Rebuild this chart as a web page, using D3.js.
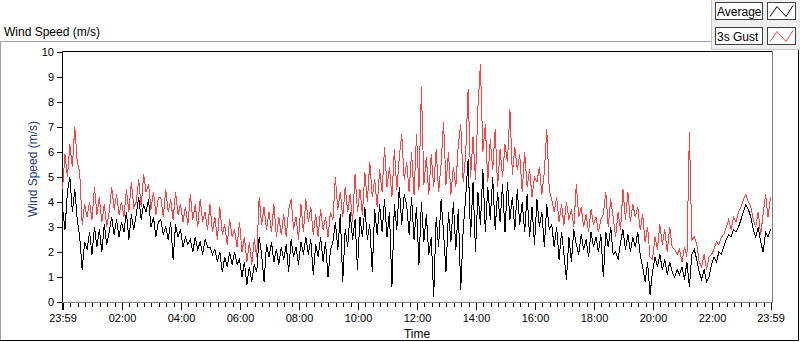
<!DOCTYPE html>
<html>
<head>
<meta charset="utf-8">
<script src="https://cdn.jsdelivr.net/npm/d3@7"></script>
<style>
  body { margin: 0; background: #fff; }
  svg { display: block; font-family: "Liberation Sans", Arial, sans-serif; }
</style>
</head>
<body>
<div id="chart"></div>
<script>
// series names as in the legend
const seriesNames = ["Average", "3s Gust"];

// labels under the time axis (first and last are 23:59)
const xTickLabels = ["23:59", "02:00", "04:00", "06:00", "08:00", "10:00", "12:00",
    "14:00", "16:00", "18:00", "20:00", "22:00", "23:59"];
const yTickValues = [0, 1, 2, 3, 4, 5, 6, 7, 8, 9, 10];

// one sample every 5 minutes from 23:59 to 23:59 (m/s)
const avgSpeed = [
    3.8, 2.9, 4.4, 5.0, 3.6, 4.5, 3.3, 2.6, 1.3, 2.4,
    2.1, 2.8, 1.9, 3.0, 2.2, 2.9, 2.0, 3.1, 2.3, 2.8,
    3.4, 2.7, 3.3, 2.6, 3.2, 2.8, 3.6, 2.5, 3.5, 2.9,
    3.5, 4.2, 3.3, 3.9, 3.6, 4.1, 3.0, 3.4, 2.6, 3.2,
    3.3, 2.7, 3.0, 2.5, 3.2, 1.7, 3.1, 2.6, 2.9, 2.2,
    2.6, 2.3, 2.5, 2.0, 2.6, 2.1, 2.4, 1.9, 2.5, 2.2,
    2.2, 1.9, 2.1, 1.6, 2.0, 1.2, 1.8, 1.4, 2.0, 1.5,
    2.0, 1.5, 1.7, 1.0, 1.6, 0.7, 1.4, 0.8, 1.5, 1.2,
    2.6, 1.9, 0.8, 2.3, 1.8, 2.4, 1.6, 2.1, 1.5, 2.2,
    1.7, 2.3, 1.2, 2.5, 1.8, 2.2, 1.5, 2.4, 1.9, 2.6,
    1.9, 2.5, 1.1, 2.3, 1.8, 2.6, 1.6, 2.4, 1.0, 2.1,
    2.4, 3.2, 2.1, 3.5, 0.8, 2.9, 2.2, 3.6, 2.5, 3.3,
    1.3, 3.4, 2.6, 3.8, 2.5, 3.1, 1.2, 3.7, 2.7, 3.9,
    2.8, 4.1, 2.6, 3.6, 0.6, 3.9, 2.9, 4.6, 3.1, 4.3,
    3.9, 2.7, 4.2, 2.5, 3.8, 1.5, 4.0, 2.4, 3.5, 1.9,
    2.6, 0.2, 3.4, 2.2, 4.1, 2.8, 1.2, 3.6, 2.4, 4.0,
    2.1, 3.7, 0.5, 2.9, 4.2, 5.7, 2.6, 4.8, 2.0, 4.4,
    3.1, 5.3, 2.8, 4.6, 3.3, 5.0, 2.9, 4.4, 3.2, 4.7,
    2.8, 4.8, 3.3, 4.2, 2.9, 4.5, 3.1, 4.0, 2.8, 4.3,
    2.6, 3.8, 2.3, 4.1, 3.0, 3.6, 2.2, 3.9, 2.9, 3.1,
    2.2, 3.0, 1.7, 2.8, 1.9, 0.9, 2.6, 1.6, 2.9, 2.3,
    1.9, 2.7, 2.1, 2.5, 1.8, 2.8, 2.2, 2.6, 2.0, 2.7,
    1.0, 2.8, 2.2, 3.0, 1.9, 2.0, 1.7, 2.4, 2.9, 2.1,
    2.7, 2.0, 2.6, 2.2, 2.8, 1.9, 1.4, 0.8, 1.6, 0.3,
    1.2, 1.8, 1.4, 1.9, 1.3, 1.7, 1.1, 1.6, 1.2, 1.0,
    1.3, 1.1, 1.4, 0.9, 1.6, 0.6, 1.9, 2.1, 1.7, 1.2,
    0.9, 1.3, 0.8, 1.0, 1.5, 1.8, 1.6, 2.0, 1.9, 2.2,
    2.5, 2.7, 2.6, 2.9, 2.8, 3.0, 3.3, 3.6, 3.9, 3.7,
    3.4, 2.9, 2.6, 3.0, 2.4, 2.0, 2.8, 2.6, 2.9
];

const gustSpeed = [
    4.5, 5.9, 5.0, 6.3, 5.4, 7.0, 5.6, 5.2, 3.1, 3.9,
    3.4, 4.0, 3.3, 4.6, 3.5, 4.2, 3.2, 3.9, 3.0, 3.6,
    4.6, 3.7, 4.3, 3.5, 4.0, 3.4, 4.5, 3.6, 4.8, 3.8,
    4.0, 4.9, 3.8, 5.1, 4.4, 4.7, 3.7, 4.4, 3.5, 4.2,
    4.2, 3.4, 4.5, 3.6, 4.1, 3.3, 4.4, 3.5, 3.9, 3.2,
    3.8, 3.1, 4.3, 3.3, 3.9, 3.0, 4.1, 3.2, 3.6, 2.9,
    3.9, 2.8, 3.4, 2.5, 3.8, 2.7, 3.1, 2.3, 3.3, 2.6,
    2.9, 2.2, 3.2, 2.0, 2.6, 1.6, 2.4, 1.5, 2.5, 1.8,
    4.2, 3.1, 3.8, 2.9, 3.6, 2.8, 3.9, 2.6, 3.4, 2.7,
    3.5, 2.6, 3.7, 4.1, 2.9, 3.4, 2.5, 3.9, 2.8, 4.1,
    3.2, 3.8, 2.7, 3.5, 2.6, 3.7, 2.9, 3.4, 2.6, 3.6,
    3.3, 5.0, 3.7, 4.4, 3.4, 4.6, 3.6, 4.3, 3.2, 5.1,
    3.6, 4.5, 3.5, 5.2, 4.0, 5.6, 4.2, 4.9, 3.8, 5.3,
    4.4, 6.2, 4.6, 5.4, 4.2, 6.1, 4.5, 5.8, 6.7, 4.9,
    5.6, 4.4, 6.0, 4.3, 6.7, 4.5, 8.6, 4.7, 5.8, 4.3,
    5.9, 4.6, 6.1, 4.4, 5.5, 7.2, 4.7, 6.0, 4.3, 5.4,
    4.6, 6.3, 7.1, 4.8, 5.9, 8.5, 5.0, 6.6, 4.9, 7.8,
    9.5, 6.0, 7.1, 4.8, 6.5, 5.3, 6.9, 4.6, 6.1, 5.0,
    6.3, 5.6, 7.7, 5.1, 6.2, 5.3, 5.9, 4.4, 6.0, 4.6,
    5.3, 4.2, 5.0, 4.8, 5.4, 4.3, 5.2, 6.9, 4.5, 4.1,
    3.6, 4.2, 3.2, 3.9, 3.1, 4.0, 3.3, 3.7, 3.0, 4.7,
    3.4, 3.8, 3.0, 3.5, 2.8, 3.7, 3.1, 3.4, 2.8, 3.3,
    3.5, 4.4, 3.0, 4.1, 3.4, 2.6, 3.6, 2.9, 4.5, 3.3,
    4.4, 3.2, 3.9, 3.4, 3.8, 2.9, 3.5, 2.4, 3.0, 1.8,
    1.7, 2.6, 2.1, 3.1, 2.3, 2.9, 2.0, 3.0, 2.2, 2.1,
    1.9, 2.1, 1.6, 2.2, 1.8, 6.8, 2.5, 2.6, 2.3, 1.6,
    1.4, 1.9, 1.3, 1.8, 1.9, 2.1, 2.4, 2.3, 2.6, 2.7,
    3.0, 3.3, 2.9, 3.4, 3.2, 3.6, 3.8, 4.1, 4.3, 4.0,
    3.8, 3.3, 3.0, 3.6, 2.7, 3.5, 4.3, 3.4, 4.2
];

const width = 800, height = 342;
const plot = {left: 62, top: 51, right: 772, bottom: 302};

const t0 = new Date(2000, 0, 1, 23, 59);
const t1 = new Date(2000, 0, 2, 23, 59);
const stepMinutes = 5;
const times = avgSpeed.map((d, i) => d3.timeMinute.offset(t0, i * stepMinutes));

// tick label -> date on the axis
const xTickDates = xTickLabels.map(function(lab, i) {
    if (i == 0) return t0;
    if (i == xTickLabels.length - 1) return t1;
    const p = lab.split(":");
    return new Date(2000, 0, 2, +p[0], +p[1]);
});

const svg = d3.select("#chart").append("svg")
    .attr("width", width)
    .attr("height", height);

// outer panel
svg.append("rect").attr("x", 0).attr("y", 0).attr("width", width).attr("height", height).attr("fill", "#fff");
svg.append("path")
    .attr("d", "M0.5,340V41.5H766")
    .attr("fill", "none").attr("stroke", "#a0a0a0");
svg.append("path")
    .attr("d", "M798.5,48V340.5H0")
    .attr("fill", "none").attr("stroke", "#000");

svg.append("text")
    .attr("x", 4).attr("y", 36)
    .style("font-size", "12px")
    .attr("fill", "#000")
    .text("Wind Speed (m/s)");

var x = d3.scaleTime().domain([t0, t1]).range([62.5, 770.5]);
var y = d3.scaleLinear().domain([0, 10]).range([302, 52]);

// plot frame
svg.append("rect")
    .attr("x", plot.left + 0.5).attr("y", plot.top + 0.5)
    .attr("width", plot.right - plot.left).attr("height", plot.bottom - plot.top)
    .attr("fill", "#fff").attr("stroke", "none");
svg.append("path")
    .attr("d", `M${plot.left + 0.5},${plot.bottom + 0.5}V${plot.top + 0.5}H${plot.right + 0.5}`)
    .attr("fill", "none").attr("stroke", "#000");
svg.append("path")
    .attr("d", `M${plot.right + 0.5},${plot.top + 0.5}V${plot.bottom + 0.5}H${plot.left + 0.5}`)
    .attr("fill", "none").attr("stroke", "#808080");

// y axis
var yAxis = svg.append("g")
    .attr("transform", `translate(${plot.left},0)`)
    .call(d3.axisLeft(y).tickValues(yTickValues).tickSize(5).tickPadding(3));
yAxis.select(".domain").remove();
yAxis.selectAll("text").style("font-size", "11px").attr("fill", "#000").attr("font-family", null);
yAxis.selectAll("line").attr("stroke", "#000").attr("shape-rendering", "crispEdges");

// x axis: minor ticks every 15 minutes, labelled ticks every two hours
var xMinor = svg.append("g")
    .attr("transform", `translate(0,${plot.bottom + 1})`)
    .call(d3.axisBottom(x).ticks(d3.timeMinute.every(15)).tickSize(4).tickFormat(""));
xMinor.select(".domain").remove();
xMinor.selectAll("line").attr("stroke", "#000").attr("shape-rendering", "crispEdges");

var xAxis = svg.append("g")
    .attr("transform", `translate(0,${plot.bottom + 1})`)
    .call(d3.axisBottom(x).tickValues(xTickDates).tickSize(7).tickPadding(4)
        .tickFormat((d, i) => xTickLabels[i]));
xAxis.select(".domain").remove();
xAxis.selectAll("text").style("font-size", "11px").attr("fill", "#000").attr("font-family", null);
xAxis.selectAll("line").attr("stroke", "#000").attr("shape-rendering", "crispEdges");
xAxis.select(".tick line").attr("stroke-width", 2);

// axis titles
svg.append("text")
    .attr("transform", "translate(37,169) rotate(-90)")
    .attr("text-anchor", "middle")
    .style("font-size", "12px")
    .attr("fill", "#1f3b7a")
    .text("Wind Speed (m/s)");

svg.append("text")
    .attr("x", 417).attr("y", 338)
    .attr("text-anchor", "middle")
    .style("font-size", "12px")
    .attr("fill", "#000")
    .text("Time");

// data lines, gust underneath
var line = d3.line()
    .x((d, i) => x(times[i]))
    .y(d => y(d));

var gPlot = svg.append("g");
gPlot.append("path")
    .datum(gustSpeed)
    .attr("d", line)
    .attr("fill", "none")
    .attr("stroke", "#ff4040")
    .attr("stroke-width", 1)
    .attr("shape-rendering", "crispEdges");
gPlot.append("path")
    .datum(avgSpeed)
    .attr("d", line)
    .attr("fill", "none")
    .attr("stroke", "#000")
    .attr("stroke-width", 1)
    .attr("shape-rendering", "crispEdges");

// legend
var legend = svg.append("g");
legend.append("rect")
    .attr("x", 711.5).attr("y", -1).attr("width", 90).attr("height", 50.5)
    .attr("fill", "#f0f0f0").attr("stroke", "#c8c8c8");
var legendColors = ["#000", "#ff4040"];
seriesNames.forEach(function(name, i) {
    var top = 2.5 + i * 25;
    legend.append("rect")
        .attr("x", 715.5).attr("y", top).attr("width", 47).attr("height", 17)
        .attr("fill", "#fff").attr("stroke", "#404040");
    legend.append("text")
        .attr("x", 717).attr("y", top + 13)
        .style("font-size", "12px")
        .attr("fill", "#000")
        .text(name);
    legend.append("rect")
        .attr("x", 767.5).attr("y", top).attr("width", 28).attr("height", 17)
        .attr("fill", "#fff").attr("stroke", "#404040");
    legend.append("path")
        .attr("d", `M770,${top + 14}L777,${top + 4}L786,${top + 14}L793,${top + 3}`)
        .attr("fill", "none")
        .attr("stroke", legendColors[i]);
});
</script>
</body>
</html>
